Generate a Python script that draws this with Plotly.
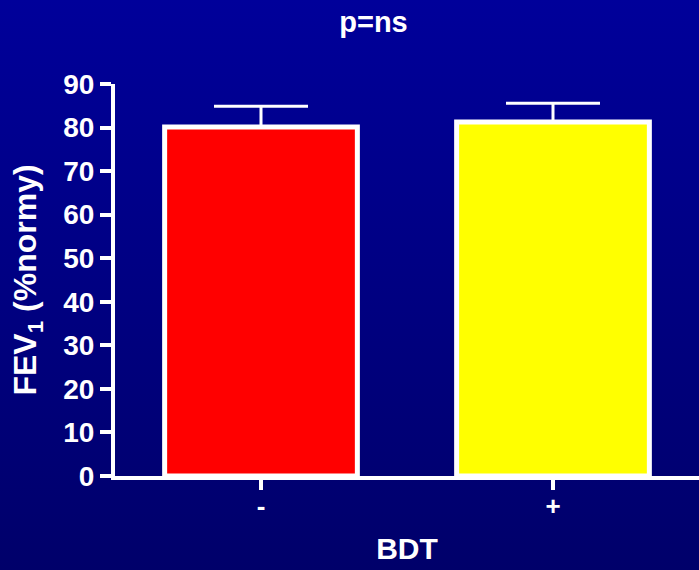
import base64
import plotly.graph_objects as go

categories = ["-", "+"]
means = [80.1, 81.3]
errors = [4.8, 4.3]
bar_colors = ["#FF0000", "#FFFF00"]
y_ticks = [0, 10, 20, 30, 40, 50, 60, 70, 80, 90]

W, H = 699, 570
ML, MR, MT, MB = 115, 0, 84, 94
PW, PH = W - ML - MR, H - MT - MB

svg = (
    f'<svg xmlns="http://www.w3.org/2000/svg" width="{W}" height="{H}" preserveAspectRatio="none">'
    '<defs><linearGradient id="g" x1="0" y1="0" x2="0" y2="1">'
    '<stop offset="0" stop-color="#00009A"/><stop offset="1" stop-color="#00006A"/>'
    '</linearGradient></defs>'
    f'<rect x="0" y="0" width="{W}" height="{H}" fill="url(#g)"/></svg>'
)
src = "data:image/svg+xml;base64," + base64.b64encode(svg.encode()).decode()

FONT = "Liberation Sans, Arial, sans-serif"

fig = go.Figure()
fig.add_trace(go.Bar(
    x=categories,
    y=means,
    width=0.66,
    marker=dict(color=bar_colors, line=dict(color="white", width=5)),
    error_y=dict(type="data", symmetric=False, array=errors, arrayminus=[0, 0],
                 color="white", thickness=3, width=47),
    showlegend=False,
    hoverinfo="skip",
))

fig.update_layout(
    width=W, height=H,
    margin=dict(l=ML, r=MR, t=MT, b=MB, pad=0),
    paper_bgcolor="#000082",
    plot_bgcolor="rgba(0,0,0,0)",
    font=dict(family=FONT, color="white"),
    title=dict(text="<b>p=ns</b>", x=373.5 / W, xanchor="center",
               y=1 - 22 / H, yanchor="middle", yref="container",
               font=dict(size=29, color="white", family=FONT)),
    images=[dict(source=src, xref="paper", yref="paper",
                 x=-ML / PW, y=1 + MT / PH, sizex=W / PW, sizey=H / PH,
                 xanchor="left", yanchor="top", sizing="stretch", layer="below")],
)

fig.update_xaxes(
    range=[-0.5, 1.5],
    tickvals=categories,
    ticktext=[f"<b>{c}</b>" for c in categories],
    showline=True, linecolor="white", linewidth=4,
    ticks="outside", ticklen=10, tickwidth=4, tickcolor="white",
    tickfont=dict(size=26, family=FONT, color="white"),
    showgrid=False, zeroline=False,
    title=dict(text="<b>BDT</b>", font=dict(size=30, family=FONT, color="white"), standoff=19),
    ticklabelstandoff=-6,
)
fig.update_yaxes(
    range=[0, 90],
    tickvals=y_ticks,
    ticktext=[f"<b>{v}</b>" for v in y_ticks],
    showline=True, linecolor="white", linewidth=4,
    ticks="outside", ticklen=11, tickwidth=4, tickcolor="white",
    tickfont=dict(size=28, family=FONT, color="white"),
    showgrid=False, zeroline=False,
    title=dict(text="<b>FEV<sub>1</sub> (%normy)</b>", font=dict(size=32, family=FONT, color="white"), standoff=18),
)

fig.write_html("out.html", config={"displayModeBar": False},
               post_script="document.body.style.margin='0';document.body.style.background='#00006A';")
